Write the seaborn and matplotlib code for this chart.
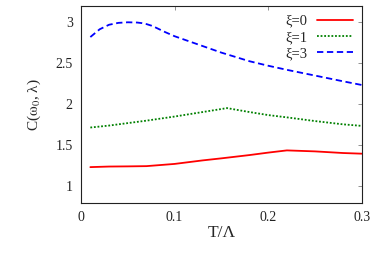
import matplotlib
matplotlib.use("Agg")
import matplotlib.pyplot as plt
import seaborn as sns
import pandas as pd

# T/Lambda sample points and C(omega_0, lambda)
t0 = [0.01, 0.03, 0.05, 0.07, 0.10, 0.13, 0.15, 0.18, 0.20, 0.22, 0.25, 0.28, 0.30]
c0 = [1.233, 1.240, 1.242, 1.245, 1.272, 1.315, 1.340, 1.380, 1.410, 1.437, 1.425, 1.405, 1.397]

t1 = [0.01, 0.03, 0.05, 0.07, 0.10, 0.13, 0.156, 0.18, 0.20, 0.22, 0.25, 0.28, 0.30]
c1 = [1.716, 1.740, 1.770, 1.800, 1.850, 1.905, 1.953, 1.905, 1.868, 1.840, 1.795, 1.755, 1.736]

t3 = [0.01, 0.02, 0.03, 0.04, 0.05, 0.06, 0.065, 0.07, 0.075, 0.08, 0.09, 0.10, 0.12, 0.15, 0.18, 0.20, 0.22, 0.25, 0.28, 0.30]
c3 = [2.82, 2.915, 2.970, 2.993, 3.000, 2.997, 2.990, 2.978, 2.960, 2.935, 2.880, 2.830, 2.750, 2.630, 2.525, 2.470, 2.420, 2.350, 2.280, 2.235]

labels = ["ξ=0", "ξ=1", "ξ=3"]
colors = ["#ff0000", "#008000", "#0000ff"]
dashes = ["-", ":", "--"]

df = pd.concat([
    pd.DataFrame({"T": t, "C": c, "xi": lab})
    for t, c, lab in zip([t0, t1, t3], [c0, c1, c3], labels)
])

sns.set_style("white")
plt.rcParams["font.family"] = ["Liberation Serif", "DejaVu Serif"]
plt.rcParams["mathtext.fontset"] = "stix"

fig = plt.figure(figsize=(3.82, 2.68), dpi=100)
ax = fig.add_axes([0.212, 0.244, 0.735, 0.734])

for lab, col, ls in zip(labels, colors, dashes):
    sub = df[df["xi"] == lab]
    kw = {}
    if ls == ":":
        kw = dict(dashes=(1.0, 1.0))
    elif ls == "--":
        kw = dict(dashes=(3.5, 2.0))
    sns.lineplot(data=sub, x="T", y="C", ax=ax, color=col, linewidth=1.3,
                 label=lab, sort=False, **kw)

ax.set_xlim(0, 0.3)
ax.set_ylim(0.8, 3.2)
ax.set_xticks([0, 0.1, 0.2, 0.3])
ax.set_xticklabels(["0", "0.1", "0.2", "0.3"])
ax.set_yticks([1, 1.5, 2, 2.5, 3])
ax.set_yticklabels(["1", "1.5", "2", "2.5", "3"])
ax.tick_params(direction="in", length=3, width=0.6, color="#808080",
               labelsize=10, top=True, right=True, pad=6, labelcolor="#222222")
for s in ax.spines.values():
    s.set_linewidth(0.8)
    s.set_color("#222222")

ax.set_xlabel("T/Λ", fontsize=12.5, labelpad=1)
ax.set_ylabel(r"C($\mathrm{\omega_0}$, λ)", fontsize=11, labelpad=9)

ax.legend(loc="upper right", frameon=False, markerfirst=False, fontsize=10.5,
          handlelength=2.5, handletextpad=0.6, labelspacing=0.2,
          borderaxespad=0.2)

fig.savefig("out.png", dpi=100)
